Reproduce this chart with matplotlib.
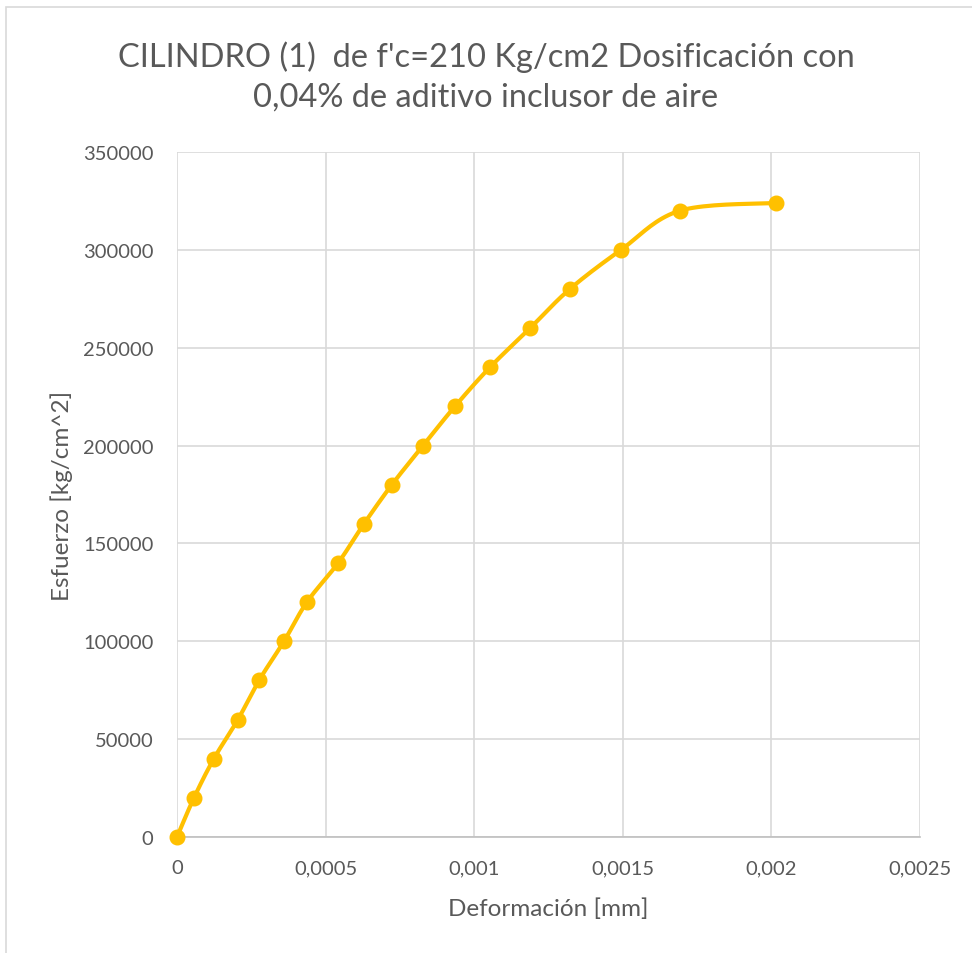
import matplotlib.pyplot as plt
import numpy as np
from matplotlib.patches import Rectangle

deformacion = [0, 0.000057, 0.000124, 0.000205, 0.000276, 0.00036, 0.000437,
               0.000542, 0.000629, 0.000723, 0.000828, 0.000935, 0.001053,
               0.001188, 0.001322, 0.001494, 0.001692, 0.002015]
esfuerzo = [0, 20000, 40000, 60000, 80000, 100000, 120000, 140000, 160000,
            180000, 200000, 220000, 240000, 260000, 280000, 300000, 320000, 324000]

x_ticks = [0, 0.0005, 0.001, 0.0015, 0.002, 0.0025]
x_labels = ["0", "0,0005", "0,001", "0,0015", "0,002", "0,0025"]
y_ticks = list(range(0, 350001, 50000))

COLOR = "#FFC000"
TEXT = "#595959"
GRID = "#D9D9D9"


def smooth(xs, ys, n=20):
    # Catmull-Rom through the points, like Excel's smoothed line
    p = np.column_stack([xs, ys]).astype(float)
    p = np.vstack([p[0], p, p[-1]])
    out = []
    t = np.linspace(0, 1, n, endpoint=False)[:, None]
    for i in range(1, len(p) - 2):
        p0, p1, p2, p3 = p[i - 1], p[i], p[i + 1], p[i + 2]
        seg = 0.5 * ((2 * p1) + (-p0 + p2) * t
                     + (2 * p0 - 5 * p1 + 4 * p2 - p3) * t ** 2
                     + (-p0 + 3 * p1 - 3 * p2 + p3) * t ** 3)
        out.append(seg)
    out.append(p[-2][None, :])
    out = np.vstack(out)
    return out[:, 0], out[:, 1]


plt.rcParams["font.family"] = ["Lato", "DejaVu Sans"]

fig = plt.figure(figsize=(9.72, 9.54), dpi=100)
fig.patches.append(Rectangle((6 / 972, -0.1), 1.2, 1 - 8 / 954 + 0.1,
                             transform=fig.transFigure, fill=False,
                             edgecolor="#D9D9D9", linewidth=1.2))
ax = fig.add_axes([177 / 972, 1 - 838 / 954, 743 / 972, 685 / 954])

xs, ys = smooth(np.array(deformacion) / 0.0025, np.array(esfuerzo) / 350000)
ax.plot(xs * 0.0025, ys * 350000, color=COLOR, linewidth=3, zorder=3,
        clip_on=False)
ax.plot(deformacion, esfuerzo, "o", color=COLOR, markersize=10.5, zorder=4,
        clip_on=False)

ax.set_xlim(0, 0.0025)
ax.set_ylim(0, 350000)
ax.set_xticks(x_ticks)
ax.set_xticklabels(x_labels)
ax.set_yticks(y_ticks)
ax.set_yticklabels([str(v) for v in y_ticks])
ax.grid(True, color=GRID, linewidth=1.2)
ax.set_axisbelow(True)
for side in ["top", "right", "left"]:
    ax.spines[side].set_visible(False)
ax.spines["bottom"].set_color("#BFBFBF")
ax.spines["bottom"].set_linewidth(1.2)
ax.tick_params(length=0, labelsize=14.5, labelcolor=TEXT)
ax.tick_params(axis="y", pad=17)
ax.tick_params(axis="x", pad=16)

ax.set_xlabel("Deformación [mm]", fontsize=17.5, color=TEXT, labelpad=15)
ax.set_ylabel("Esfuerzo [kg/cm^2]", fontsize=17.5, color=TEXT, labelpad=7)
fig.text(0.5, 1 - 77 / 954, "CILINDRO (1)  de f'c=210 Kg/cm2 Dosificación con\n0,04% de aditivo inclusor de aire",
         ha="center", va="center", fontsize=23.5, color=TEXT, linespacing=1.38)

fig.savefig("out.png", dpi=100)
